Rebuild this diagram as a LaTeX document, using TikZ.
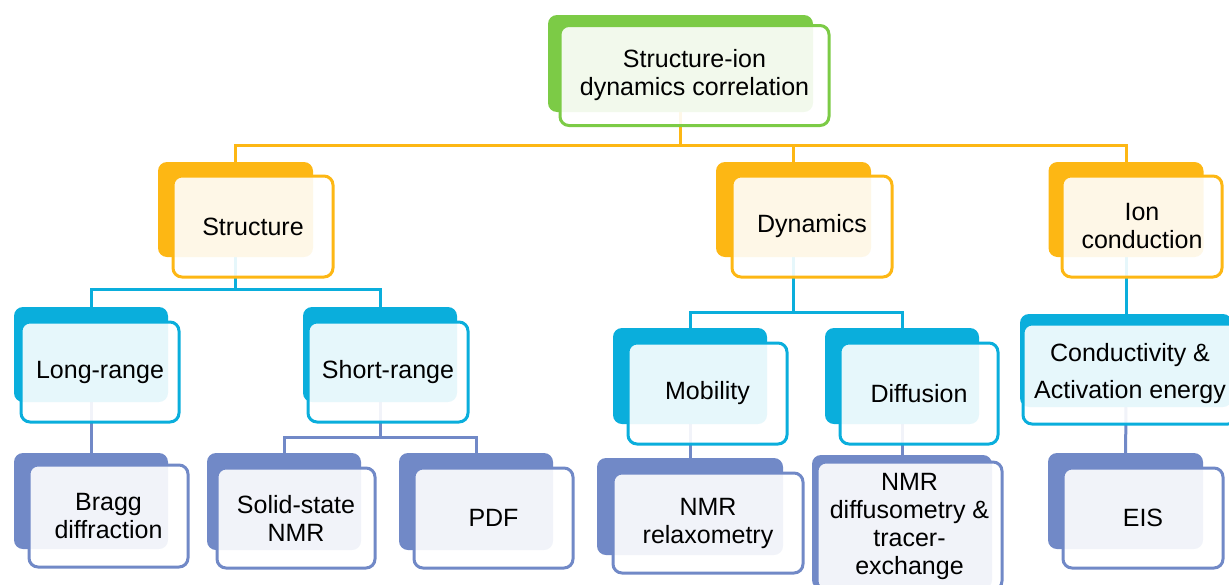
\documentclass[tikz,border=0pt]{standalone}
\usepackage{fontspec}
\setmainfont{Liberation Sans}
\usetikzlibrary{backgrounds}

\definecolor{leaf}{HTML}{7CCB46}
\definecolor{gold}{HTML}{FDB714}
\definecolor{sky}{HTML}{0AAEDC}
\definecolor{peri}{HTML}{7189C7}

\tikzset{
  cardback/.style={rounded corners=9pt,fill=#1,inner sep=0pt},
  cardfront/.style={rounded corners=9pt,draw=#1,line width=3pt,fill=white,
    fill opacity=0.9,text opacity=1,inner sep=0pt,align=center,
    font=\fontsize{25}{28}\selectfont},
  link/.style={draw=#1,line width=3pt}
}

\begin{document}
\begin{tikzpicture}[x=1pt,y=-1pt]
  \useasboundingbox (0,0) rectangle (1229,584);
  \clip (0,0) rectangle (1229,584);

  % top
  \node[cardback=leaf,minimum width=265pt,minimum height=97pt] (rootb) at (680.5,63.5) {};
  \node[cardfront=leaf,minimum width=269pt,minimum height=100pt] (root) at (694.5,75.5)
    {Structure-ion\\dynamics correlation};

  % second row
  \node[cardback=gold,minimum width=155pt,minimum height=95pt] (strb) at (235.5,209.5) {};
  \node[cardfront=gold,minimum width=160pt,minimum height=101pt] (str) at (253,226.5) {Structure};
  \node[cardback=gold,minimum width=155pt,minimum height=95pt] (dynb) at (793.5,209.5) {};
  \node[cardfront=gold,minimum width=160pt,minimum height=101pt] (dyn) at (812,226.5) {Dynamics};
  \node[cardback=gold,minimum width=155pt,minimum height=95pt] (ionb) at (1126,209.5) {};
  \node[cardfront=gold,minimum width=160pt,minimum height=101pt] (ion) at (1142,226.5) {Ion\\conduction};

  % third row
  \node[cardback=sky,minimum width=154pt,minimum height=95pt] (longb) at (91,354.5) {};
  \node[cardfront=sky,minimum width=158pt,minimum height=100pt] (long) at (100,372) {Long-range};
  \node[cardback=sky,minimum width=154pt,minimum height=95pt] (shortb) at (380,354.5) {};
  \node[cardfront=sky,minimum width=160pt,minimum height=100pt] (short) at (388,372) {Short-range};
  \node[cardback=sky,minimum width=154pt,minimum height=96pt] (mobb) at (690,376) {};
  \node[cardfront=sky,minimum width=159pt,minimum height=101pt] (mob) at (707.5,393.5) {Mobility};
  \node[cardback=sky,minimum width=154pt,minimum height=96pt] (diffb) at (902,376) {};
  \node[cardfront=sky,minimum width=158pt,minimum height=101pt] (diff) at (919,393.5) {Diffusion};
  \node[cardback=sky,minimum width=212pt,minimum height=93pt] (condb) at (1126,360.5) {};
  \node[cardfront=sky,minimum width=214pt,minimum height=100pt] (cond) at (1130,374)
    {Conductivity \&\\[9pt]Activation energy};

  % bottom row
  \node[cardback=peri,minimum width=154pt,minimum height=96pt] (braggb) at (91,501) {};
  \node[cardfront=peri,minimum width=159pt,minimum height=102pt] (bragg) at (108.5,516) {Bragg\\diffraction};
  \node[cardback=peri,minimum width=154pt,minimum height=97pt] (solidb) at (284,501.5) {};
  \node[cardfront=peri,minimum width=158pt,minimum height=100pt] (solid) at (296,518) {Solid-state\\NMR};
  \node[cardback=peri,minimum width=154pt,minimum height=97pt] (pdfb) at (476,501.5) {};
  \node[cardfront=peri,minimum width=159pt,minimum height=100pt] (pdf) at (493.5,518) {PDF};
  \node[cardback=peri,minimum width=186pt,minimum height=97pt] (relaxb) at (690,506.5) {};
  \node[cardfront=peri,minimum width=190pt,minimum height=100pt] (relax) at (708,523) {NMR\\relaxometry};
  \node[cardback=peri,minimum width=180pt,minimum height=134pt] (diffub) at (902,522) {};
  \node[cardfront=peri,minimum width=185pt,minimum height=128pt] (diffu) at (909.5,526)
    {NMR\\diffusometry \&\\tracer-\\exchange};
  \node[cardback=peri,minimum width=155pt,minimum height=96pt] (eisb) at (1125.5,501) {};
  \node[cardfront=peri,minimum width=160pt,minimum height=100pt] (eis) at (1143,518) {EIS};

  % connectors, behind the cards
  \begin{scope}[on background layer]
    \path (rootb.center) ++(0,82) coordinate (j1);
    \path (strb.center) ++(0,80) coordinate (j2);
    \path (shortb.center) ++(0,82.5) coordinate (j3);
    \path (dynb.center) ++(0,102.5) coordinate (j4);
    \draw[link=gold] (rootb.center) -- (j1);
    \draw[link=gold] (strb.center) |- (j1) -| (ionb.center);
    \draw[link=gold] (j1) -| (dynb.center);
    \draw[link=sky] (strb.center) -- (j2);
    \draw[link=sky] (longb.center) |- (j2) -| (shortb.center);
    \draw[link=sky] (dynb.center) -- (j4);
    \draw[link=sky] (mobb.center) |- (j4) -| (diffb.center);
    \draw[link=sky] (ionb.center) -- (condb.center);
    \draw[link=peri] (longb.center) -- (braggb.center);
    \draw[link=peri] (shortb.center) -- (j3);
    \draw[link=peri] (solidb.center) |- (j3) -| (pdfb.center);
    \draw[link=peri] (mobb.center) -- (relaxb.center);
    \draw[link=peri] (diffb.center) -- (diffub.center);
    \draw[link=peri] (condb.center) -- (eisb.center);
  \end{scope}
\end{tikzpicture}
\end{document}
